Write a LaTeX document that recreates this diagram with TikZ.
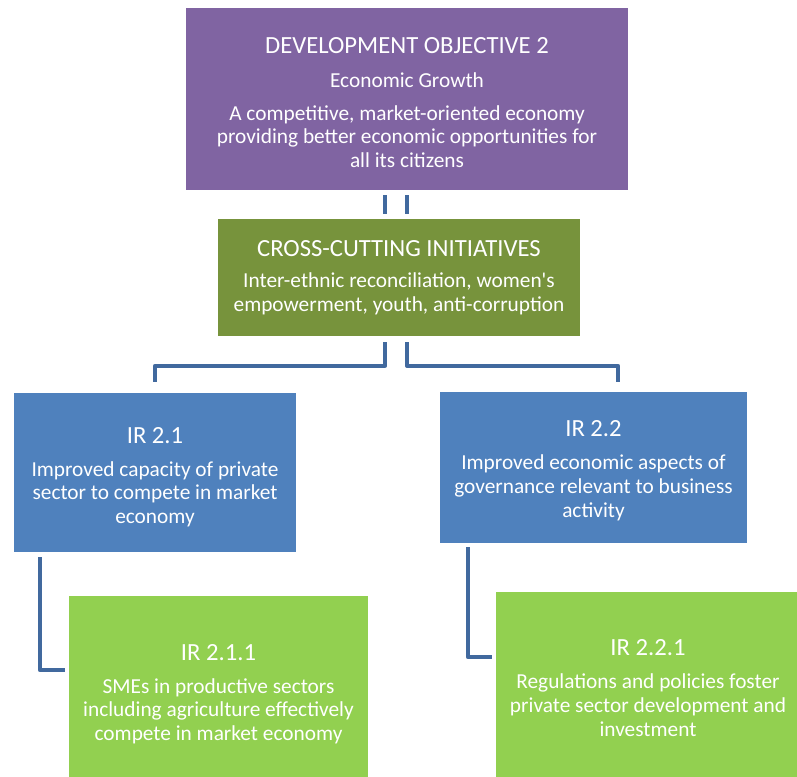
\documentclass[tikz,border=0pt]{standalone}
\usepackage{fontspec}
\setmainfont{Carlito}
\usetikzlibrary{calc,positioning}

\definecolor{objpurple}{HTML}{8064A2}
\definecolor{crossolive}{HTML}{77933C}
\definecolor{irblue}{HTML}{4F81BD}
\definecolor{subgreen}{HTML}{92D050}
\definecolor{linkblue}{HTML}{41699E}

% optional argument: strut height above the title
\newcommand{\boxtitle}[2][0pt]{{\fontsize{18.5}{22}\selectfont\rule{0pt}{#1}#2}}

\tikzset{
  box/.style={text=white, align=center, inner sep=0pt,
    font=\fontsize{16}{17.8}\selectfont},
  link/.style={draw=linkblue, line width=3pt, line join=round},
}

\begin{document}
\begin{tikzpicture}[x=0.75pt, y=-0.75pt]
  \useasboundingbox (0,0) rectangle (797,777);

  \node[box, fill=objpurple, minimum width=331.5pt, minimum height=136.5pt]
    (obj) at (407,99) {\boxtitle[17.5pt]{DEVELOPMENT OBJECTIVE 2}\\[8pt]
      Economic Growth\\[6.5pt]
      A competitive, market-oriented economy\\
      providing better economic opportunities for\\
      all its citizens};

  \node[box, fill=crossolive, minimum width=271.5pt, minimum height=87.75pt]
    (cross) at (399,277.5) {\boxtitle{CROSS-CUTTING INITIATIVES}\\[6pt]
      Inter-ethnic reconciliation, women\textquotesingle s\\
      empowerment, youth, anti-corruption};

  \node[box, fill=irblue, minimum width=211.5pt, minimum height=119.25pt]
    (irA) at (155,472.5) {\boxtitle[19pt]{IR 2.1}\\[7pt]
      Improved capacity of private\\
      sector to compete in market\\
      economy};

  \node[box, fill=irblue, minimum width=230.25pt, minimum height=113.25pt]
    (irB) at (593.5,467.5) {\boxtitle[16.8pt]{IR 2.2}\\[7pt]
      Improved economic aspects of\\
      governance relevant to business\\
      activity};

  \node[box, fill=subgreen, minimum width=224.25pt, minimum height=141pt]
    (irAA) at (218.5,690) {\boxtitle[18pt]{IR 2.1.1}\\[7pt]
      SMEs in productive sectors\\
      including agriculture effectively\\
      compete in market economy};

  \node[box, fill=subgreen, minimum width=228pt, minimum height=141pt]
    (irBB) at (648,686) {\boxtitle[15pt]{IR 2.2.1}\\[7pt]
      Regulations and policies foster\\
      private sector development and\\
      investment};

  % objective down through the cross-cutting box
  \draw[link] ($(obj.south)+(-22,5)$) -- ($(cross.north)+(-14,-5)$);
  \draw[link] ($(obj.south)+(0,5)$) -- ($(cross.north)+(8,-5)$);

  \draw[link] ($(cross.south)+(-14,6)$) |- ($(irA.north)+(0,-27)$)
    -- ($(irA.north)+(0,-11)$);
  \draw[link] ($(cross.south)+(8,6)$) |- ($(irB.north)+(24.5,-26)$)
    -- ($(irB.north)+(24.5,-10)$);

  % sub results
  \draw[link] ($(irA.south west)+(26,5)$) |- ($(irAA.west)+(-4,-20)$);
  \draw[link] ($(irB.south west)+(28,4)$) |- ($(irBB.west)+(-4,-29)$);
\end{tikzpicture}
\end{document}
